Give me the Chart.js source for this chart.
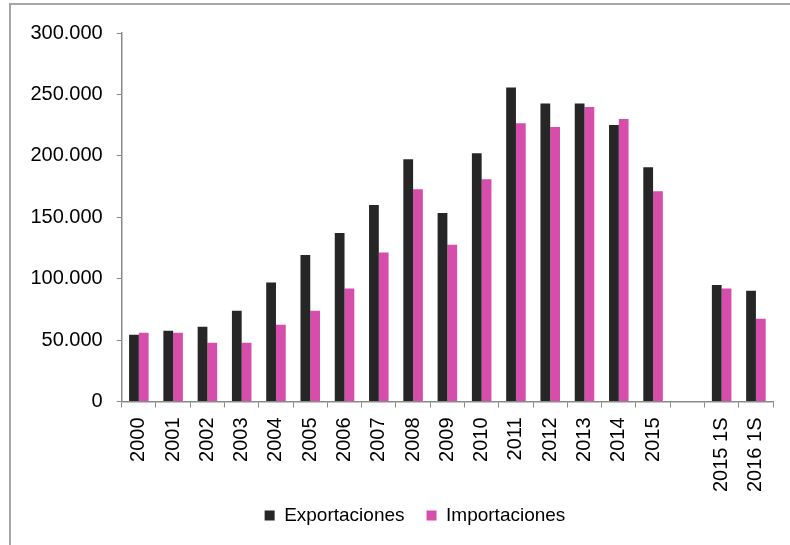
<!DOCTYPE html>
<html>
<head>
<meta charset="utf-8">
<script src="https://cdn.jsdelivr.net/npm/chart.js@4.4.1/dist/chart.umd.min.js"></script>
<style>
  html, body { margin: 0; padding: 0; background: #fff; overflow: hidden; }
  #frame { position: absolute; left: 9px; top: 3px; width: 900px; height: 700px; border: 2px solid #a6a6a6; }
  #wrap { position: absolute; left: 0; top: 0; width: 790px; height: 545px; }
</style>
</head>
<body>
<div id="frame"></div>
<div id="wrap"><canvas id="tradeChart"></canvas></div>
<script>
// Data (blank slot separates the semester figures)
const periods = ['2000', '2001', '2002', '2003', '2004', '2005', '2006', '2007', '2008', '2009',
    '2010', '2011', '2012', '2013', '2014', '2015', '', '2015 1S', '2016 1S'];
const exportaciones = [54400, 57600, 60900, 73900, 96800, 119300, 137200, 160000, 197300, 153500,
    202200, 255700, 242700, 242700, 225000, 190800, null, 94800, 90200];
const importaciones = [56000, 56000, 47800, 47800, 62500, 73900, 91900, 121200, 172800, 127700,
    181000, 226600, 223400, 239700, 229900, 171200, null, 91900, 67400];
const yTicks = [0, 50000, 100000, 150000, 200000, 250000, 300000];

const axisGray = '#8a8a8a';
const font = { family: '"Liberation Sans", Arial, sans-serif', size: 20 };

// 300000 -> "300.000"
function formatThousands(v) {
    return String(v).replace(/\B(?=(\d{3})+(?!\d))/g, '.');
}

// Legend sits a bit right of the canvas centre and closer to the axis labels
const legendNudge = {
    id: 'legendNudge',
    afterLayout: function(chart) {
        const lg = chart.legend;
        lg.left += 9.5;
        lg.right += 9.5;
        lg.top -= 18;
        lg.bottom -= 18;
    }
};

const ctx = document.getElementById('tradeChart').getContext('2d');
const tradeChart = new Chart(ctx, {
    type: 'bar',
    data: {
        labels: periods,
        datasets: [
            {
                label: 'Exportaciones',
                data: exportaciones,
                backgroundColor: '#262626',
                categoryPercentage: 0.57,
                barPercentage: 1.0
            },
            {
                label: 'Importaciones',
                data: importaciones,
                backgroundColor: '#d74dab',
                categoryPercentage: 0.57,
                barPercentage: 1.0
            }
        ]
    },
    options: {
        responsive: true,
        maintainAspectRatio: false,
        animation: false,
        layout: {
            padding: { top: 33, left: 24, right: 3, bottom: -8 }
        },
        scales: {
            x: {
                grid: { drawOnChartArea: false, offset: true, tickLength: 6, color: axisGray },
                border: { color: axisGray, width: 1.5 },
                ticks: {
                    color: '#000',
                    font: font,
                    minRotation: 90,
                    maxRotation: 90,
                    autoSkip: false,
                    padding: 10
                }
            },
            y: {
                min: 0,
                max: 300000,
                afterBuildTicks: function(scale) {
                    scale.ticks = yTicks.map(function(v) { return { value: v }; });
                },
                afterFit: function(scale) {
                    scale.width = 97.7;
                },
                grid: { drawOnChartArea: false, tickLength: 5, color: axisGray },
                border: { color: axisGray, width: 1.5 },
                ticks: {
                    color: '#000',
                    font: font,
                    padding: 14,
                    callback: function(value) {
                        return formatThousands(value);
                    }
                }
            }
        },
        plugins: {
            tooltip: { enabled: false },
            legend: {
                position: 'bottom',
                labels: {
                    color: '#000',
                    font: { family: font.family, size: 19 },
                    boxWidth: 10,
                    boxHeight: 10,
                    padding: 22
                }
            }
        }
    },
    plugins: [legendNudge]
});
</script>
</body>
</html>
